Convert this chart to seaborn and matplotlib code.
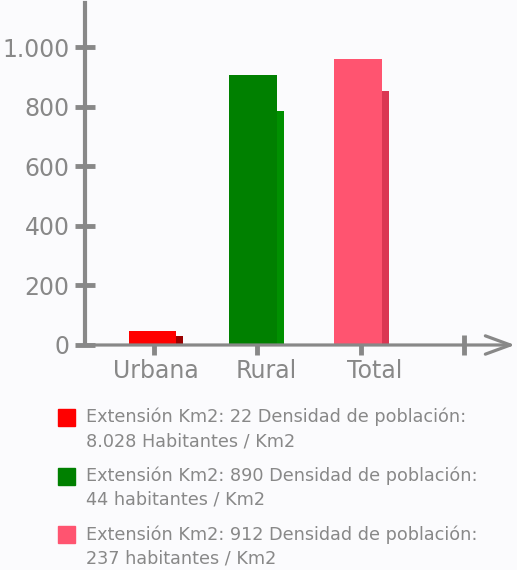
import numpy as np
import pandas as pd
import matplotlib
matplotlib.use("Agg")
import matplotlib.pyplot as plt
from matplotlib.patches import Rectangle
import seaborn as sns

# datos
categorias = ["Urbana", "Rural", "Total"]
valores = [48, 907, 961]
valores_fondo = [31, 786, 853]
colores = ["#ff0000", "#008000", "#ff5470"]
colores_fondo = ["#9a0000", "#009000", "#db3653"]
leyenda = [
    "Extensión Km2: 22 Densidad de población:\n8.028 Habitantes / Km2",
    "Extensión Km2: 890 Densidad de población:\n44 habitantes / Km2",
    "Extensión Km2: 912 Densidad de población:\n237 habitantes / Km2",
]
yticks = [0, 200, 400, 600, 800, 1000]
ylabels = ["0", "200", "400", "600", "800", "1.000"]

gris = "#888888"
fondo = "#fbfbfd"

sns.set_style("white")
plt.rcParams["font.family"] = ["DejaVu Sans"]

fig = plt.figure(figsize=(5.17, 5.70), dpi=100, facecolor=fondo)
ax = fig.add_axes([85 / 517, 1 - 345 / 570, 430 / 517, 342 / 570])
ax.set_facecolor(fondo)

pos = np.array([0.0, 0.97, 1.985])
df_fondo = pd.DataFrame({"x": pos + 0.053, "y": valores_fondo, "cat": categorias})
df = pd.DataFrame({"x": pos - 0.015, "y": valores, "cat": categorias})

sns.barplot(data=df_fondo, x="x", y="y", hue="cat", palette=colores_fondo,
            native_scale=True, width=0.473, legend=False, ax=ax, saturation=1,
            linewidth=0, zorder=1)
sns.barplot(data=df, x="x", y="y", hue="cat", palette=colores,
            native_scale=True, width=0.473, legend=False, ax=ax, saturation=1,
            linewidth=0, zorder=2)

ax.set_xlim(-0.667, 3.49)
ax.set_ylim(0, 1149)
ax.set_xlabel("")
ax.set_ylabel("")

for s in ["top", "right", "bottom"]:
    ax.spines[s].set_visible(False)
ax.spines["left"].set_color(gris)
ax.spines["left"].set_linewidth(3)

# eje x con flecha
ax.annotate("", xy=(1.0, 0), xytext=(0, 0), xycoords="axes fraction",
            arrowprops=dict(arrowstyle="->,head_length=0.9,head_width=0.33",
                            color=gris, lw=2.3, mutation_scale=20,
                            shrinkA=0, shrinkB=0), zorder=3)

ax.set_yticks(yticks)
ax.set_yticklabels(ylabels)
ax.tick_params(axis="y", left=True, direction="inout", length=14, width=3.5,
               color=gris, labelcolor=gris, labelsize=17, pad=4)
ax.set_xticks([0, 1, 2, 3])
ax.set_xticklabels([])
ax.tick_params(axis="x", bottom=True, direction="inout", length=15, width=3.5,
               color=gris)
for t in ax.xaxis.get_major_ticks():
    t.tick1line.set_zorder(4)

lab_x = [0.02, 1.09, 2.13]
for x, c in zip(lab_x, categorias):
    ax.text(x, -88, c, ha="center", va="center", fontsize=17, color=gris)

# leyenda
y0 = 418
for i, (txt, col) in enumerate(zip(leyenda, colores)):
    yc = y0 + i * 58.5
    fig.patches.append(Rectangle((58 / 517, 1 - (yc + 8) / 570), 17 / 517, 17 / 570,
                                 transform=fig.transFigure, color=col))
    fig.text(86 / 517, 1 - (yc - 10) / 570, txt, ha="left", va="top",
             fontsize=12.7, color=gris, linespacing=1.4)

fig.savefig("out.png", dpi=100, facecolor=fondo)
